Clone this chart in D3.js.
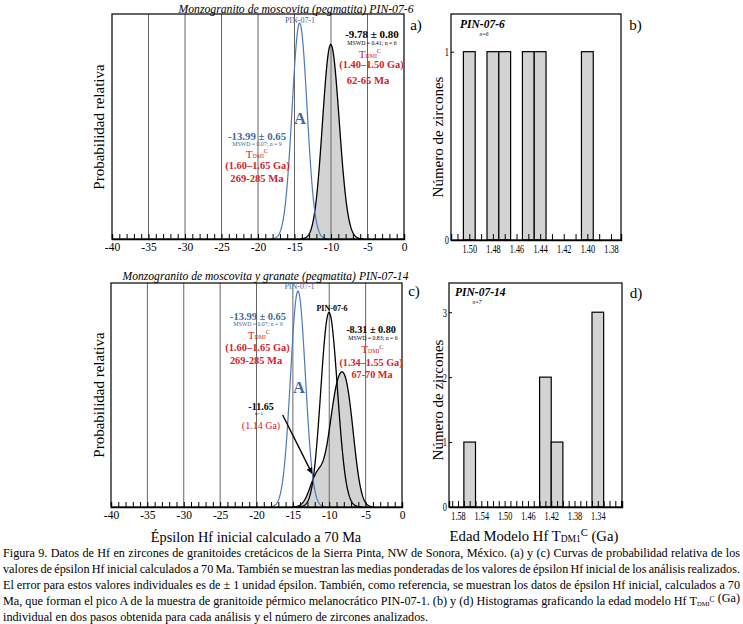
<!DOCTYPE html>
<html><head><meta charset="utf-8">
<script src="https://cdn.jsdelivr.net/npm/d3@7"></script>
<style>
body{margin:0;background:#fff}
svg{display:block}
text{font-family:"Liberation Serif","Times New Roman","DejaVu Serif",serif}
</style>
</head><body>
<svg id="chart" width="743" height="624"></svg>
<script>
// ---------------- DATA ----------------
// epsilon Hf(70 Ma) individual analyses (error ±1 epsilon unit)
const pin071 = [-14.65,-14.55,-14.45,-14.4,-14.3,-14.2,-14.15,-14.05,-13.95]; // peak A, PIN-07-1
const pin076 = [-10.7,-10.4,-10.2,-9.9,-9.7,-9.05];                           // PIN-07-6
const pin0714 = [-11.65,-9.4,-9.2,-8.8,-7.6,-7.4,-7.5];                        // PIN-07-14
const epsError = 1;
const epsTicks = [-40,-35,-30,-25,-20,-15,-10,-5,0];
// histogram (b) PIN-07-6 : TDM C (Ga) bins
const histB_x0 = [1.505,1.485,1.475,1.455,1.445,1.405];
const histB_x1 = [1.495,1.475,1.465,1.445,1.435,1.395];
const histB_n  = [1,1,1,1,1,1];
const ticksB = [1.50,1.48,1.46,1.44,1.42,1.40,1.38];
// histogram (d) PIN-07-14
const histD_x0 = [1.57,1.44,1.42,1.35];
const histD_x1 = [1.55,1.42,1.40,1.33];
const histD_n  = [1,2,1,3];
const ticksD = [1.58,1.54,1.50,1.46,1.42,1.38,1.34];

const captionLines = [
  "Figura 9. Datos de Hf en zircones de granitoides cretácicos de la Sierra Pinta, NW de Sonora, México. (a) y (c) Curvas de probabilidad relativa de los",
  "valores de épsilon Hf inicial calculados a 70 Ma. También se muestran las medias ponderadas de los valores de épsilon Hf inicial de los análisis realizados.",
  "El error para estos valores individuales es de ± 1 unidad épsilon. También, como referencia, se muestran los datos de épsilon Hf inicial, calculados a 70",
  "Ma, que forman el pico A de la muestra de granitoide pérmico melanocrático PIN-07-1. (b) y (d) Histogramas graficando la edad modelo Hf |TDM| (Ga)",
  "individual en dos pasos obtenida para cada análisis y el número de zircones analizados."
];

// ---------------- HELPERS ----------------
const RED = "#d2232a", BLUE = "#3f67a8", BLUEL = "#4d79b8", GRAY = "#d3d3d3";
const svg = d3.select("#chart");

function density(vals, x){
  let s = 0;
  for (const v of vals){ const d=(x-v)/epsError; s += Math.exp(-0.5*d*d); }
  return s/(vals.length*epsError*Math.sqrt(2*Math.PI));
}
function curvePts(vals){
  const lo = d3.min(vals)-3.5, hi = d3.max(vals)+3.5;
  return d3.range(lo, hi+1e-9, 0.05).map(x=>[x, density(vals,x)]);
}
function txt(g, x, y, s, o={}){
  const t = g.append("text").attr("x",x).attr("y",y).text(s)
    .attr("font-size", o.size||11).attr("fill", o.fill||"#000")
    .attr("text-anchor", o.anchor||"middle");
  if (o.bold) t.attr("font-weight","bold");
  if (o.italic) t.attr("font-style","italic");
  return t;
}
function tdm(g, x, y, size, color){
  const t = g.append("text").attr("x",x).attr("y",y).attr("text-anchor","middle")
    .attr("fill",color).attr("font-size",size);
  t.append("tspan").text("T");
  t.append("tspan").attr("font-size",size*0.52).attr("dy",size*0.03).text("DMI");
  t.append("tspan").attr("font-size",size*0.6).attr("dy",-size*0.42).text("C");
  return t;
}

// ---------------- PROBABILITY PANELS ----------------
function probPanel(L,R,T,B,ymax, layers){
  const x = d3.scaleLinear().domain([-40,0]).range([L,R]);
  const y = d3.scaleLinear().domain([0,ymax]).range([B,T]);
  const g = svg.append("g");
  const area = d3.area().x(d=>x(d[0])).y0(y(0)).y1(d=>y(d[1]));
  const line = d3.line().x(d=>x(d[0])).y(d=>y(d[1]));
  layers.filter(l=>l.fill).forEach(l=>{
    g.append("path").datum(curvePts(l.vals)).attr("d",area).attr("fill",l.fill).attr("stroke","none");
  });
  g.selectAll("line.grid").data(epsTicks.slice(1,-1)).join("line")
    .attr("x1",d=>x(d)).attr("x2",d=>x(d)).attr("y1",T).attr("y2",B)
    .attr("stroke","#666").attr("stroke-width",1);
  layers.forEach(l=>{
    g.append("path").datum(curvePts(l.vals)).attr("d",line).attr("fill","none")
      .attr("stroke",l.stroke).attr("stroke-width",l.sw||1.3);
  });
  g.append("rect").attr("x",L).attr("y",T).attr("width",R-L).attr("height",B-T)
    .attr("fill","none").attr("stroke","#000").attr("stroke-width",1.2);
  const ax = g.append("g").attr("transform",`translate(0,${B})`)
    .call(d3.axisBottom(x).tickValues(d3.range(-40,1,1)).tickSize(-5).tickPadding(4)
      .tickFormat(d=> d%5===0 ? String(d) : ""));
  ax.attr("font-family",null);
  ax.select(".domain").attr("stroke","#000").attr("stroke-width",1.4);
  ax.selectAll("line").attr("stroke","#000");
  ax.selectAll("text").attr("font-size",11.5).attr("fill","#000");
  return {x,y,g};
}

const pa = probPanel(112,404,14,239,0.4058,[
  {vals:pin076, fill:GRAY, stroke:"#000"},
  {vals:pin071, stroke:BLUEL, sw:1.2}
]);
const pc = probPanel(111,402,283,507,0.404,[
  {vals:pin0714, fill:GRAY, stroke:"#000"},
  {vals:pin076, stroke:"#000"},
  {vals:pin071, stroke:BLUEL, sw:1.2}
]);

// ---------------- HISTOGRAM PANELS ----------------
function histPanel(L,R,T,B,xdom,ymax,x0s,x1s,ns,labTicks,yTicks){
  const x = d3.scaleLinear().domain(xdom).range([L,R]);
  const y = d3.scaleLinear().domain([0,ymax]).range([B,T]);
  const g = svg.append("g");
  g.selectAll("rect.bar").data(ns).join("rect")
    .attr("x",(d,i)=>x(x0s[i])).attr("width",(d,i)=>x(x1s[i])-x(x0s[i]))
    .attr("y",d=>y(d)).attr("height",d=>y(0)-y(d))
    .attr("fill",GRAY).attr("stroke","#000").attr("stroke-width",1.2);
  g.append("rect").attr("x",L).attr("y",T).attr("width",R-L).attr("height",B-T)
    .attr("fill","none").attr("stroke","#000").attr("stroke-width",1.2);
  const lo = Math.ceil(Math.min(...xdom)*100), hi = Math.floor(Math.max(...xdom)*100);
  const minor = d3.range(lo,hi+1).map(v=>v/100);
  const labs = new Set(labTicks.map(v=>v.toFixed(2)));
  const ax = g.append("g").attr("transform",`translate(0,${B})`)
    .call(d3.axisBottom(x).tickValues(minor).tickSize(-6).tickPadding(4)
      .tickFormat(d=> labs.has(d.toFixed(2)) ? d.toFixed(2) : ""));
  ax.attr("font-family",null);
  ax.select(".domain").attr("stroke","#000").attr("stroke-width",1.4);
  ax.selectAll("line").attr("stroke","#000");
  ax.selectAll("text").attr("font-size",12.5).attr("fill","#000").attr("transform","scale(0.66,1)");
  const ay = g.append("g").attr("transform",`translate(${L},0)`)
    .call(d3.axisLeft(y).tickValues(yTicks).tickSize(-3).tickPadding(3).tickFormat(d3.format("d")));
  ay.attr("font-family",null);
  ay.select(".domain").remove();
  ay.selectAll("line").attr("stroke","#000");
  ay.selectAll("text").attr("font-size",12).attr("fill","#000").attr("transform","scale(0.7,1)");
  return {x,y,g};
}
histPanel(451,621,14,240,[1.5155,1.3715],1.2,histB_x0,histB_x1,histB_n,ticksB,[0,1]);
histPanel(449,622,283,507,[1.5955,1.2985],3.45,histD_x0,histD_x1,histD_n,ticksD,[0,1,2,3]);

// ---------------- TEXT ----------------
const t = svg.append("g");
txt(t,296,13,"Monzogranito de moscovita (pegmatita) PIN-07-6",{size:11.7,italic:true});
txt(t,265.5,279.5,"Monzogranito de moscovita y granate (pegmatita) PIN-07-14",{size:11.6,italic:true});
txt(t,416,30,"a)",{size:15});
txt(t,414,296,"c)",{size:15});
txt(t,635.5,30,"b)",{size:15});
txt(t,636,298,"d)",{size:15});
txt(t,0,0,"Probabilidad relativa",{size:15}).attr("transform","translate(104,127) rotate(-90)");
txt(t,0,0,"Probabilidad relativa",{size:15}).attr("transform","translate(104,395) rotate(-90)");
txt(t,0,0,"Número de zircones",{size:15}).attr("transform","translate(443,137) rotate(-90)");
txt(t,0,0,"Número de zircones",{size:15}).attr("transform","translate(443,400) rotate(-90)");
txt(t,256,542,"Épsilon Hf inicial calculado a 70 Ma",{size:14.3});
{
  const e = t.append("text").attr("x",534).attr("y",541).attr("text-anchor","middle").attr("font-size",14.7);
  e.append("tspan").text("Edad Modelo Hf T");
  e.append("tspan").attr("font-size",9.5).attr("dy",1).text("DM1");
  e.append("tspan").attr("font-size",10.5).attr("dy",-6).text("C");
  e.append("tspan").attr("dy",5).text(" (Ga)");
}
// panel a annotations
txt(t,300,22.5,"PIN-07-1",{size:8,fill:BLUE});
txt(t,372,37.5,"-9.78 ± 0.80",{size:11,bold:true});
txt(t,372,44.5,"MSWD = 0.41; n = 6",{size:5.8});
tdm(t,370,57.5,11.2,RED);
txt(t,371.5,68,"(1.40–1.50 Ga)",{size:10.4,bold:true,fill:RED});
txt(t,368,84,"62-65 Ma",{size:10.6,bold:true,fill:RED});
txt(t,300,124,"A",{size:16.5,bold:true,fill:BLUE});
txt(t,257,140,"-13.99 ± 0.65",{size:10.8,bold:true,fill:BLUE});
txt(t,257,146,"MSWD = 0.07; n = 9",{size:5.8,fill:BLUE});
tdm(t,257,157.5,11.2,RED);
txt(t,257.5,169,"(1.60–1.65 Ga)",{size:10.4,bold:true,fill:RED});
txt(t,257,181.5,"269-285 Ma",{size:10.6,bold:true,fill:RED});
// panel c annotations
txt(t,299.5,288.5,"PIN-07-1",{size:8,fill:BLUE});
txt(t,258,319.5,"-13.99 ± 0.65",{size:10.4,bold:true,fill:BLUE});
txt(t,258,325.5,"MSWD = 0.07; n = 9",{size:5.8,fill:BLUE});
tdm(t,259,338.5,11.2,RED);
txt(t,257.5,351,"(1.60–1.65 Ga)",{size:10.4,bold:true,fill:RED});
txt(t,256,363.5,"269-285 Ma",{size:10.4,bold:true,fill:RED});
txt(t,332,311,"PIN-07-6",{size:8,bold:true});
txt(t,371,332.5,"-8.31 ± 0.80",{size:10.2,bold:true});
txt(t,373,339.5,"MSWD = 0.83; n = 6",{size:5.8});
tdm(t,372.5,353,11.2,RED);
txt(t,371,365.5,"(1.34–1.55 Ga)",{size:10.2,bold:true,fill:RED});
txt(t,372,377.5,"67-70 Ma",{size:10.2,bold:true,fill:RED});
txt(t,299,392.5,"A",{size:16.5,bold:true,fill:BLUE});
txt(t,261,409.5,"-11.65",{size:10,bold:true});
txt(t,259,414.5,"n=1",{size:5});
txt(t,261,428.5,"(1.14 Ga)",{size:10,fill:RED});
// arrow
svg.append("defs").append("marker").attr("id","ah").attr("viewBox","0 0 10 10")
  .attr("refX",9).attr("refY",5).attr("markerWidth",7).attr("markerHeight",6)
  .attr("orient","auto").attr("markerUnits","userSpaceOnUse")
  .append("path").attr("d","M0,0 L10,5 L0,10 Z").attr("fill","#000");
t.append("line").attr("x1",pc.x(-16.4)).attr("y1",pc.y(0.166))
  .attr("x2",pc.x(-12.4)).attr("y2",pc.y(0.061))
  .attr("stroke","#000").attr("stroke-width",1.4).attr("marker-end","url(#ah)");
// histogram labels
txt(t,460,28,"PIN-07-6",{size:11.5,bold:true,italic:true,anchor:"start"});
txt(t,484,36,"n=6",{size:5.5,italic:true});
txt(t,455,296,"PIN-07-14",{size:11.5,bold:true,italic:true,anchor:"start"});
txt(t,477,303.5,"n=7",{size:5.5,italic:true});

// ---------------- CAPTION ----------------
const capY0 = 557, capDY = 16, capL = 3, capR = 740;
captionLines.forEach((s,i)=>{
  const el = t.append("text").attr("x",capL).attr("y",capY0+i*capDY)
    .attr("font-size",12.2).attr("text-anchor","start");
  const parts = s.split("|");
  let spaces = 0;
  parts.forEach((p,k)=>{
    if (k===1){
      el.append("tspan").text("T");
      el.append("tspan").attr("font-size",6.5).attr("dy",1).text("DMI");
      el.append("tspan").attr("font-size",7.5).attr("dy",-4.5).text("C");
      el.append("tspan").attr("dy",3.5).text("");
    } else {
      el.append("tspan").text(p);
      spaces += (p.match(/ /g)||[]).length;
    }
  });
  if (i < captionLines.length-1){
    const w = el.node().getComputedTextLength();
    el.attr("word-spacing", ((capR-capL)-w)/spaces);
  }
});
</script>
</body></html>
